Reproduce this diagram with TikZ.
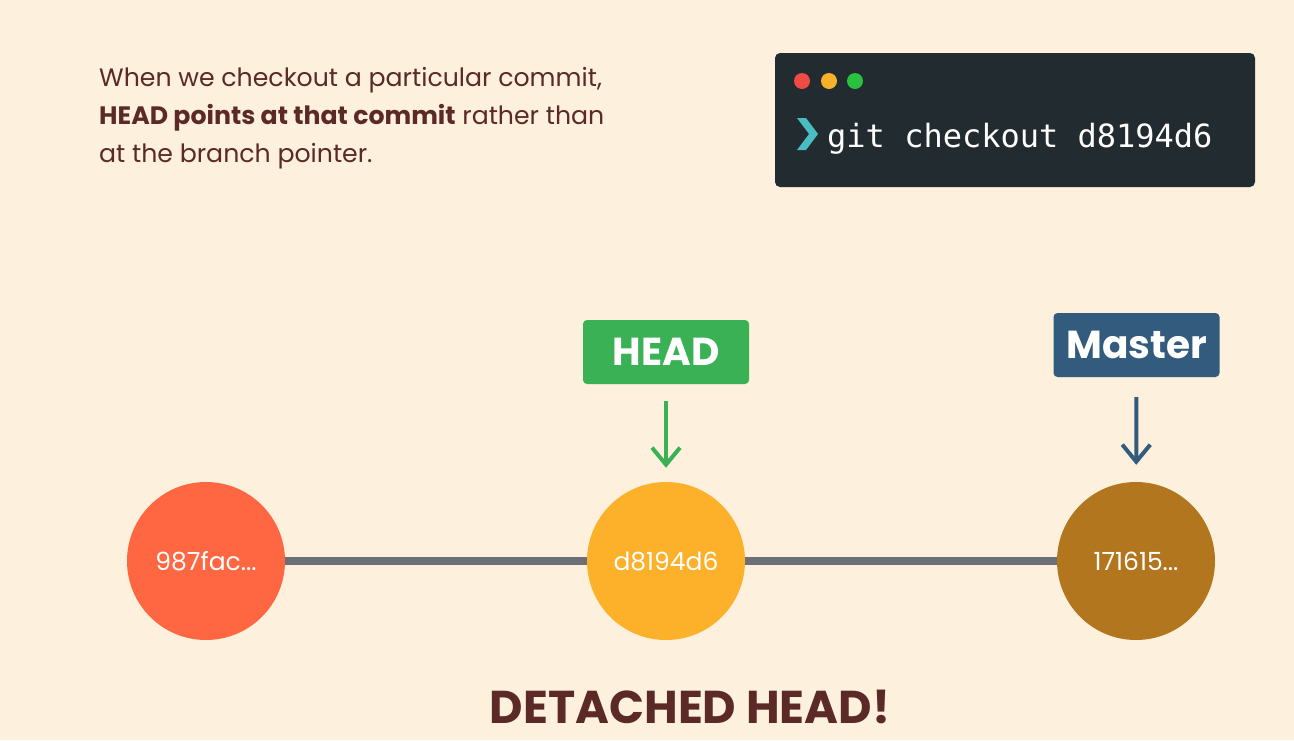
\documentclass[tikz,border=0pt]{standalone}
\usepackage{fontspec}
\setmainfont{Poppins}
\setmonofont{DejaVu Sans Mono}
\usetikzlibrary{arrows.meta,positioning}
\definecolor{bgcream}{HTML}{FDF0DC}
\definecolor{txtbrown}{HTML}{5B2A26}
\definecolor{termdark}{HTML}{222B2F}
\definecolor{headgreen}{HTML}{3AB154}
\definecolor{masterblue}{HTML}{325B7D}
\definecolor{commitred}{HTML}{FF6743}
\definecolor{commityellow}{HTML}{FDB12B}
\definecolor{commitbrown}{HTML}{B2761E}
\definecolor{linegray}{HTML}{6C6F76}
\definecolor{dotred}{HTML}{EE4B45}
\definecolor{dotorange}{HTML}{F7B02A}
\definecolor{dotgreen}{HTML}{2BC13F}
\definecolor{promptcyan}{HTML}{4ABDC3}

\begin{document}
\begin{tikzpicture}[x=1pt,y=-1pt,>={Straight Barb[length=17pt,width=28pt]},
	commit/.style={circle,minimum size=158pt,inner sep=0pt,text=white,font=\fontsize{25}{25}\selectfont},
	tagbox/.style={rounded corners=4pt,text=white,minimum width=166pt,minimum height=64pt,inner sep=0pt,font=\bfseries\fontsize{39}{39}\selectfont}]
\fill[bgcream] (0,0) rectangle (1294,740);

% text at the top left
\node[anchor=north west,align=left,text=txtbrown,inner sep=0pt,font=\fontsize{25.2}{38}\selectfont] (intro) at (99,67)
	{When we checkout a particular commit,\\ \textbf{HEAD points at that commit} rather than\\ at the branch pointer.};

% terminal
\node[fill=termdark,rounded corners=5pt,minimum width=480pt,minimum height=134pt] (term) at (1015,120) {};
\fill[dotred] (802,81) circle (8);
\fill[dotorange] (829,81) circle (8);
\fill[dotgreen] (855,81) circle (8);
\fill[promptcyan] (797,118) -- (806,118) -- (818,134) -- (806,150) -- (797,150) -- (809,134) -- cycle;
\node[anchor=base west,inner sep=0pt,text=white,font=\ttfamily\fontsize{32}{32}\selectfont] (cmd) at (827,147) {git checkout d8194d6};

% commits
\node[commit,fill=commitred] (c1) at (206,561) {987fac...};
\node[commit,fill=commityellow] (c2) at (666,561) {d8194d6};
\node[commit,fill=commitbrown] (c3) at (1136,561) {171615...};
\draw[linegray,line width=8pt] (c1) -- (c2);
\draw[linegray,line width=8pt] (c2) -- (c3);

% pointers
\node[tagbox,fill=headgreen] (head) at (666,352) {HEAD};
\node[tagbox,fill=masterblue] (master) at (1136.5,345) {Master};
\draw[->,headgreen,line width=4pt,shorten <=17pt,shorten >=14pt] (head) -- (c2);
\draw[->,masterblue,line width=4pt,shorten <=20pt,shorten >=17pt] (master) -- (c3);

\node[anchor=base,inner sep=0pt,text depth=0pt,text=txtbrown,font=\bfseries\fontsize{46}{46}\selectfont] (title) at (690,723) {DETACHED HEAD!};
\end{tikzpicture}
\end{document}
